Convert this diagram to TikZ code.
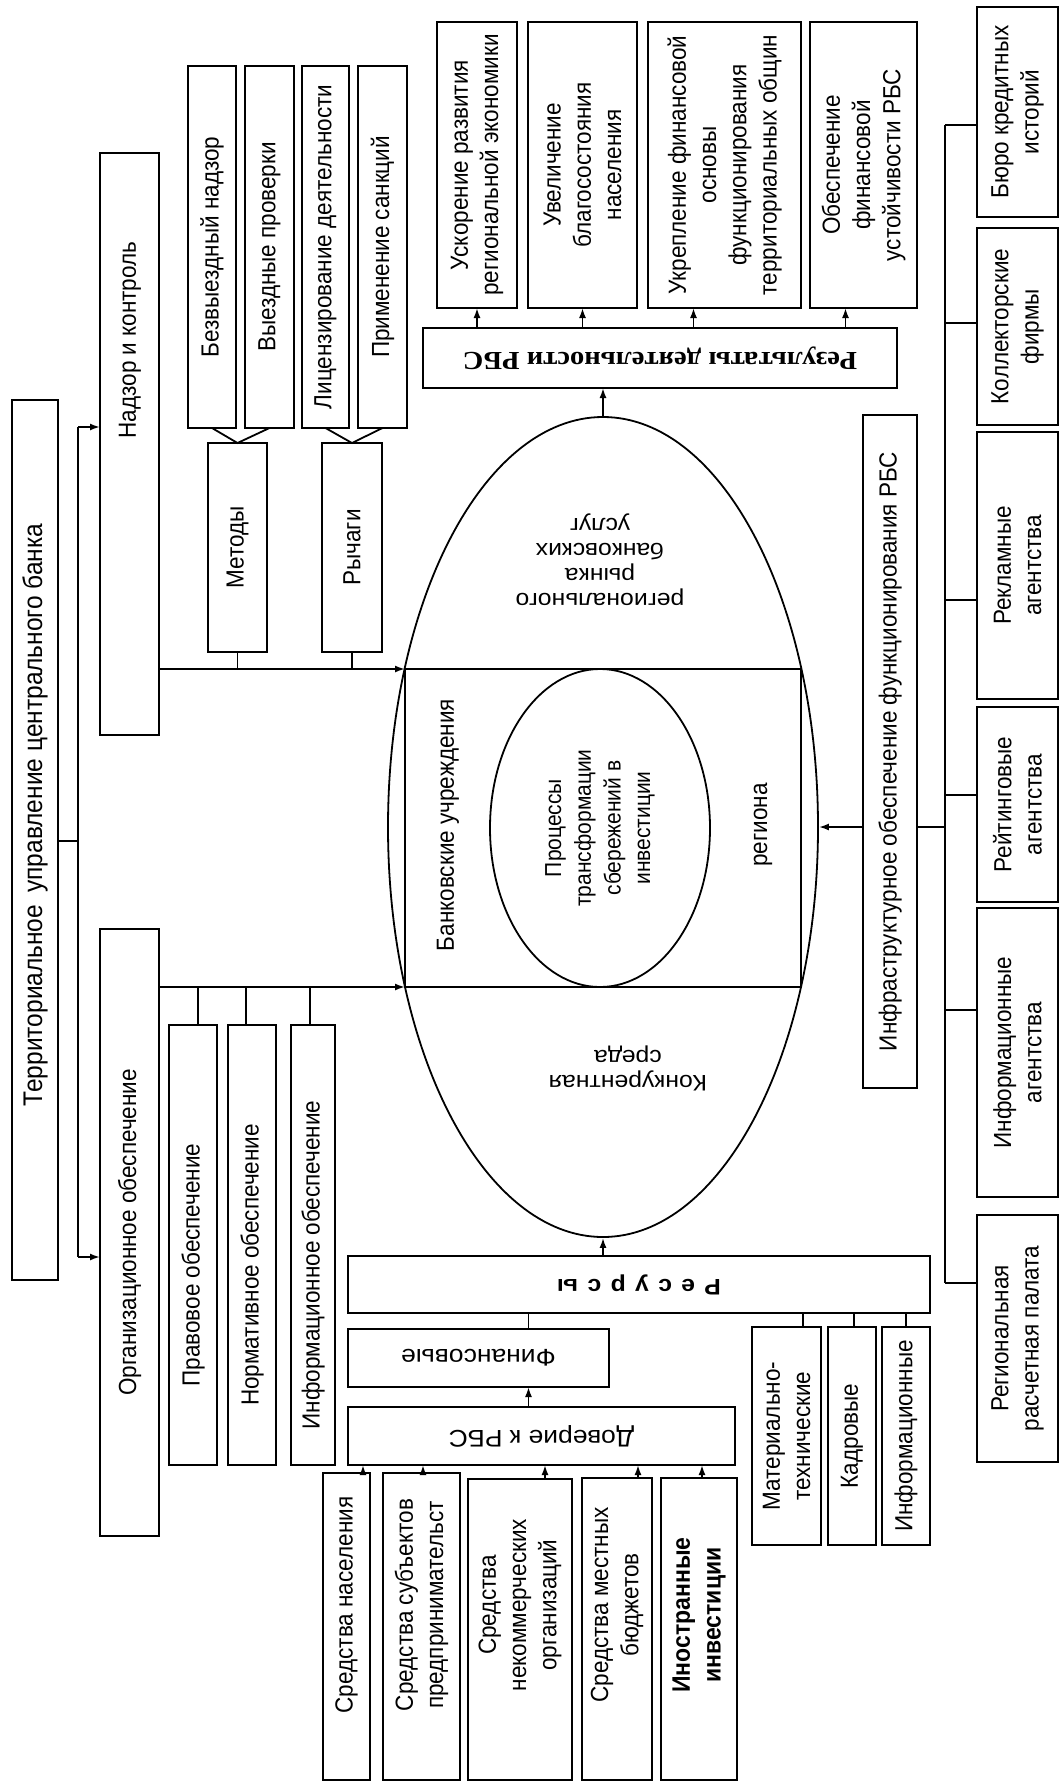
\documentclass[tikz,border=0pt]{standalone}
\usepackage{fontspec}
\setmainfont{Liberation Sans}
\newfontfamily\tnr{Liberation Serif}
\usetikzlibrary{shapes.geometric,arrows.meta}
\tikzset{
  box/.style={draw, line width=1.9pt, inner sep=0pt, outer sep=0pt, rectangle},
  lbl/.style={font=\fontsize{22.5}{27.5}\selectfont, align=center, inner sep=0pt},
  up/.style={lbl, xscale=1.1, rotate=90},
  flip/.style={lbl, xscale=1.1, rotate=180},
  ln/.style={line width=1.8pt},
  arr/.style={line width=1.8pt, -{Latex[length=10pt,width=7pt]}},
}
\newcommand\bx[5]{\node[box, minimum width={#4-#2}, minimum height={#5-#3}] (#1) at ({(#2+#4)/2},{(#3+#5)/2}) {};}
\begin{document}
\begin{tikzpicture}[x=1pt,y=-1pt]
\useasboundingbox (0,0) rectangle (1061,1785);
% boxes
\bx{tu}{12}{400}{58}{1280}
\bx{nk}{100}{153}{159}{735}
\bx{oo}{100}{929}{159}{1536}
\bx{b1}{188}{66}{236}{428}
\bx{b2}{245}{66}{294}{428}
\bx{b3}{302}{66}{349}{428}
\bx{b4}{358}{66}{407}{428}
\bx{met}{208}{443}{267}{652}
\bx{ry}{322}{443}{382}{652}
\bx{pr}{169}{1025}{217}{1465}
\bx{nr}{228}{1025}{276}{1465}
\bx{io}{291}{1025}{335}{1465}
\bx{r1}{437}{22}{517}{308}
\bx{r2}{528}{22}{637}{308}
\bx{r3}{648}{22}{801}{308}
\bx{r4}{810}{22}{917}{308}
\bx{res}{423}{328}{897}{388}
\bx{inf}{863}{415}{917}{1088}
\bx{i1}{977}{7}{1058}{217}
\bx{i2}{977}{228}{1058}{425}
\bx{i3}{977}{432}{1058}{699}
\bx{i4}{977}{707}{1058}{902}
\bx{i5}{977}{908}{1058}{1197}
\bx{i6}{977}{1215}{1058}{1462}
\bx{s1}{323}{1473}{370}{1780}
\bx{s2}{383}{1473}{460}{1780}
\bx{s3}{468}{1479}{572}{1780}
\bx{s4}{582}{1478}{652}{1780}
\bx{s5}{661}{1478}{737}{1780}
\bx{dov}{348}{1407}{735}{1465}
\bx{fin}{348}{1329}{609}{1387}
\bx{resu}{348}{1256}{930}{1313}
\bx{m1}{752}{1327}{821}{1545}
\bx{m2}{828}{1327}{876}{1545}
\bx{m3}{882}{1327}{930}{1545}
% ellipse and rectangle
\node[draw, ellipse, line width=1.8pt, inner sep=0pt, minimum width=430, minimum height=820] (el) at (603,827) {};
\node[box, minimum width=396, minimum height=318] (rect) at (603,828) {};
\node[draw, ellipse, line width=1.8pt, inner sep=0pt, minimum width=220, minimum height=318] (inn) at (600,828) {};
% texts
\node[up, font=\fontsize{24.5}{29}\selectfont] (ttu) at (35,815) {Территориальное\enspace управление центрального банка};
\node[up] (tnk) at (130,340) {Надзор и контроль};
\node[up] (too) at (oo) {Организационное обеспечение};
\node[up] (tb1) at (b1) {Безвыездный надзор};
\node[up] (tb2) at (b2) {Выездные проверки};
\node[up] (tb3) at (b3) {Лицензирование деятельности};
\node[up] (tb4) at (b4) {Применение санкций};
\node[up] (tmet) at (met) {Методы};
\node[up] (try) at (ry) {Рычаги};
\node[up] (tpr) at (193,1265) {Правовое обеспечение};
\node[up] (tnr) at (252,1265) {Нормативное обеспечение};
\node[up] (tio) at (313,1265) {Информационное обеспечение};
\node[up] (tr1) at (r1) {Ускорение развития\\региональной экономики};
\node[up] (tr2) at (r2) {Увеличение\\благосостояния\\населения};
\node[up] (tr3) at (r3) {Укрепление финансовой\\основы\\функционирования\\территориальных общин};
\node[up] (tr4) at (r4) {Обеспечение\\финансовой\\устойчивости РБС};
\node[flip, font=\tnr\bfseries\fontsize{26}{30}\selectfont] (tres) at (res) {Результаты деятельности РБС};
\node[up] (tinf) at (inf) {Инфраструктурное обеспечение функционирования РБС};
\node[up] (ti1) at (i1) {Бюро кредитных\\историй};
\node[up] (ti2) at (i2) {Коллекторские\\фирмы};
\node[up] (ti3) at (i3) {Рекламные\\агентства};
\node[up] (ti4) at (i4) {Рейтинговые\\агентства};
\node[up] (ti5) at (i5) {Информационные\\агентства};
\node[up] (ti6) at (i6) {Региональная\\расчетная палата};
\node[up] (ts1) at (346.5,1605) {Средства населения};
\node[up] (ts2) at (421.5,1605) {Средства субъектов\\предпринимательст};
\node[up] (ts3) at (520,1605) {Средства\\некоммерческих\\организаций};
\node[up] (ts4) at (617,1605) {Средства местных\\бюджетов};
\node[up, font=\bfseries\fontsize{23}{28}\selectfont] (ts5) at (699,1615) {Иностранные\\инвестиции};
\node[flip, font=\fontsize{24}{28}\selectfont] (tdov) at (dov) {Доверие к РБС};
\node[flip, font=\fontsize{24}{28}\selectfont] (tfin) at (fin) {Финансовые};
\node[flip, font=\bfseries\fontsize{22.5}{28}\selectfont] (tresu) at (resu) {Р\hspace{8.5pt}е\hspace{8.5pt}с\hspace{8.5pt}у\hspace{8.5pt}р\hspace{8.5pt}с\hspace{8.5pt}ы};
\node[up] (tm1) at (m1) {Материально-\\технические};
\node[up] (tm2) at (m2) {Кадровые};
\node[up] (tm3) at (m3) {Информационные};
\node[up] (tbank) at (448,825) {Банковские учреждения};
\node[up] (treg) at (763,825) {региона};
\node[up, font=\fontsize{21}{27}\selectfont] (tproc) at (inn) {Процессы\\трансформации\\сбережений в\\инвестиции};
\node[flip, font=\fontsize{22.5}{25}\selectfont] (trynok) at (600,560) {регионального\\рынка\\банковских\\услуг};
\node[flip, font=\fontsize{22.5}{25}\selectfont] (tkonk) at (628,1068) {Конкурентная\\среда};
% connectors: top-level
\coordinate (j1) at (78,427);
\coordinate (j2) at (78,1257);
\coordinate (jm) at (78,841);
\draw[ln] (tu.east |- jm) -- (jm);
\draw[ln] (j1) -- (j2);
\draw[arr] (j1) -- (nk.west |- j1);
\draw[arr] (j2) -- (oo.west |- j2);
% nadzor
\draw[arr] (nk.east |- rect.north) -- (rect.north west);
\draw[ln] (met.south) -- (met.south |- rect.north);
\draw[ln] (ry.south) -- (ry.south |- rect.north);
\draw[ln] (b1.south) -- (met.north) -- (b2.south);
\draw[ln] (b3.south) -- (ry.north) -- (b4.south);
% org
\draw[arr] (oo.east |- rect.south) -- (rect.south west);
\draw[ln] ([xshift=5]pr.north) -- ([xshift=5]pr.north |- rect.south);
\draw[ln] ([xshift=-6]nr.north) -- ([xshift=-6]nr.north |- rect.south);
\draw[ln] ([xshift=-3]io.north) -- ([xshift=-3]io.north |- rect.south);
% results
\draw[arr] (el.north) -- (el.north |- res.south);
\draw[arr] (r1.south |- res.north) -- (r1.south);
\draw[arr] (r2.south |- res.north) -- (r2.south);
\draw[arr] ([xshift=-31]r3.south |- res.north) -- ([xshift=-31]r3.south);
\draw[arr] ([xshift=-18]r4.south |- res.north) -- ([xshift=-18]r4.south);
% infrastructure
\coordinate (t1) at (945,125);
\coordinate (t6) at (945,1283);
\draw[arr] (inf.west |- el.east) -- (el.east);
\draw[ln] (inf.east |- el.east) -- (t1 |- el.east);
\draw[ln] (t1) -- (t6);
\draw[ln] (t1) -- (i1.west |- t1);
\draw[ln] (945,323) -- (i2.west |- 0,323);
\draw[ln] (945,600) -- (i3.west |- 0,600);
\draw[ln] (945,795) -- (i4.west |- 0,795);
\draw[ln] (945,1010) -- (i5.west |- 0,1010);
\draw[ln] (t6) -- (i6.west |- t6);
% resources
\draw[arr] ([xshift=16.5]s1.north) -- ([xshift=16.5]s1.north |- dov.south);
\draw[arr] ([xshift=1.5]s2.north) -- ([xshift=1.5]s2.north |- dov.south);
\draw[arr] ([xshift=25]s3.north) -- ([xshift=25]s3.north |- dov.south);
\draw[arr] ([xshift=21]s4.north) -- ([xshift=21]s4.north |- dov.south);
\draw[arr] ([xshift=3]s5.north) -- ([xshift=3]s5.north |- dov.south);
\draw[arr] ([xshift=50]fin.south |- dov.north) -- ([xshift=50]fin.south);
\draw[ln] ([xshift=50]fin.north) -- ([xshift=50]fin.north |- resu.south);
\draw[arr] (el.south |- resu.north) -- (el.south);
\draw[ln] ([xshift=16.5]m1.north) -- ([xshift=16.5]m1.north |- resu.south);
\draw[ln] ([xshift=2]m2.north) -- ([xshift=2]m2.north |- resu.south);
\draw[ln] (m3.north) -- (m3.north |- resu.south);
\end{tikzpicture}
\end{document}
